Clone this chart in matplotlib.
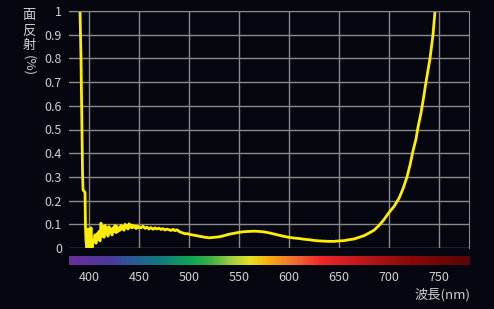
import numpy as np
import matplotlib
matplotlib.use("Agg")
import matplotlib.pyplot as plt
from matplotlib.colors import LinearSegmentedColormap

plt.rcParams['font.family'] = ['Noto Sans CJK JP', 'DejaVu Sans']

wavelength = [390, 391, 392, 393, 393.5, 394, 395, 396, 396.5, 397, 398, 399, 400,
              401, 402, 403, 404, 405, 406, 407, 408, 409, 410, 411, 412, 413, 414,
              415, 416, 417, 418, 419, 420, 421, 422, 423, 424, 425, 426, 427, 428,
              429, 430, 431, 432, 433, 434, 435, 436, 437, 438, 439, 440, 441, 442,
              443, 444, 445, 446, 447, 448, 449, 450, 452, 454, 456, 458, 460, 462,
              464, 466, 468, 470, 472, 474, 476, 478, 480, 482, 484, 486, 488, 490,
              492, 494, 496, 498, 501, 505, 510, 515, 520, 525, 530, 535, 540, 545,
              550, 555, 560, 565, 570, 575, 580, 585, 590, 595, 600, 605, 610, 615,
              620, 625, 630, 635, 640, 645, 650, 655, 660, 665, 670, 675, 680, 685,
              690, 695, 700, 705, 710, 714, 718, 721, 724, 727, 729, 732, 734, 737,
              741, 744, 746, 748]
reflect = [1.10, 1.00, 0.80, 0.50, 0.32, 0.245, 0.24, 0.235, 0.085, 0.03, 0.0, 0.08, 0.0,
           0.02, 0.085, 0.0, 0.03, 0.025, 0.055, 0.02, 0.06, 0.035, 0.07, 0.03, 0.105, 0.05,
           0.09, 0.045, 0.095, 0.06, 0.085, 0.05, 0.09, 0.065, 0.08, 0.055, 0.085, 0.07,
           0.095, 0.065, 0.09, 0.07, 0.085, 0.075, 0.095, 0.08, 0.09, 0.075, 0.1, 0.085,
           0.095, 0.08, 0.102, 0.088, 0.097, 0.085, 0.095, 0.088, 0.093, 0.082, 0.092,
           0.085, 0.09, 0.085, 0.092, 0.083, 0.088, 0.08, 0.086, 0.079, 0.085, 0.08,
           0.084, 0.078, 0.082, 0.076, 0.08, 0.077, 0.074, 0.079, 0.073, 0.077, 0.07,
           0.066, 0.063, 0.06, 0.061, 0.057, 0.054, 0.05, 0.046, 0.043, 0.045, 0.047,
           0.052, 0.058, 0.062, 0.066, 0.069, 0.07, 0.071, 0.07, 0.068, 0.064, 0.059,
           0.054, 0.049, 0.045, 0.042, 0.04, 0.037, 0.035, 0.032, 0.03, 0.029, 0.028,
           0.028, 0.03, 0.031, 0.035, 0.038, 0.045, 0.052, 0.063, 0.075, 0.095, 0.12,
           0.15, 0.175, 0.21, 0.25, 0.30, 0.35, 0.41, 0.46, 0.51, 0.57, 0.62, 0.70,
           0.80, 0.90, 1.00, 1.06]

xticks = [400, 450, 500, 550, 600, 650, 700, 750]
yticks = [0, 0.1, 0.2, 0.3, 0.4, 0.5, 0.6, 0.7, 0.8, 0.9, 1]
ytick_labels = ['0', '0.1', '0.2', '0.3', '0.4', '0.5', '0.6', '0.7', '0.8', '0.9', '1']

# spectrum strip colours
spec_nm = [380, 421, 441, 471, 504, 521, 544, 561, 578, 604, 631, 671, 721, 780]
spec_col = ['#6a2e9a', '#4a3a9a', '#2a5a96', '#137a7e', '#10a850', '#40b040', '#a8d040',
            '#e8e020', '#f8b010', '#f07030', '#f02828', '#c01820', '#8a0808', '#5a0505']

bg = '#05060f'
grid_c = '#8a8a8a'
text_c = '#d0d0d0'

fig = plt.figure(figsize=(4.94, 3.09), dpi=100, facecolor=bg)
ax = fig.add_axes([69/494, 61/309, 400/494, 237/309], facecolor=bg)

ax.plot(wavelength, reflect, color='#ffee00', lw=2, solid_joinstyle='round')
ax.set_xlim(380, 780)
ax.set_ylim(0, 1)
ax.set_xticks(xticks)
ax.set_yticks(yticks)
ax.set_yticklabels(ytick_labels)
ax.tick_params(axis='x', length=0, labelbottom=False)
ax.tick_params(axis='y', length=0, colors=text_c, labelsize=9, pad=5)
ax.grid(True, color=grid_c, lw=1)
for s in ax.spines.values():
    s.set_visible(False)
ax.spines['right'].set_visible(True)
ax.spines['right'].set_color(grid_c)
ax.spines['top'].set_visible(True)
ax.spines['top'].set_color(grid_c)

# spectrum bar
cax = fig.add_axes([69/494, 44/309, 400/494, 9/309], facecolor=bg)
pos = [(n - 380) / 400 for n in spec_nm]
cmap = LinearSegmentedColormap.from_list('spec', list(zip(pos, spec_col)))
cax.imshow(np.linspace(0, 1, 400)[None, :], aspect='auto', cmap=cmap,
           extent=[380, 780, 0, 1])
cax.set_xlim(380, 780)
cax.set_xticks(xticks)
cax.set_yticks([])
cax.tick_params(axis='x', length=0, colors=text_c, labelsize=9, pad=4)
for s in cax.spines.values():
    s.set_visible(False)

fig.text(470/494, 1 - 295/309, '波長(nm)', color=text_c, fontsize=9.5,
         ha='right', va='center')
# vertical axis title
for i, ch in enumerate(['面', '反', '射']):
    fig.text(29/494, 1 - (16 + i * 15)/309, ch, color=text_c, fontsize=9.5,
             ha='center', va='center')
fig.text(29/494, 1 - 66/309, '(%)', color=text_c, fontsize=9.5,
         ha='center', va='center', rotation=-90)

fig.savefig('out.png', dpi=100, facecolor=bg)
